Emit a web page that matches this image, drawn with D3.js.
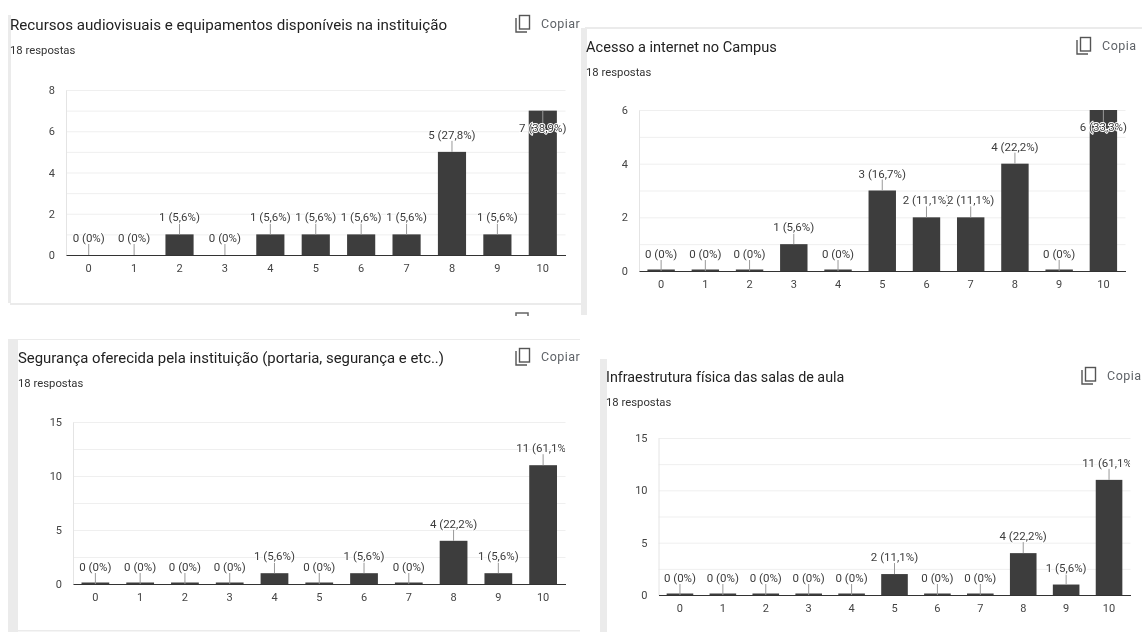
<!DOCTYPE html>
<html>
<head>
<meta charset="utf-8">
<script src="https://cdnjs.cloudflare.com/ajax/libs/d3/7.8.5/d3.min.js"></script>
<style>
  html, body { margin: 0; padding: 0; background: #fff; }
  svg { display: block; font-family: Roboto, sans-serif; filter: blur(0.4px); }
  .grid line { stroke: #efefef; }
  .grid .domain { display: none; }
  .axis .domain { stroke: #333; stroke-width: 1.2; }
  .axis text, .yaxis text { fill: #444; font-size: 11px; font-family: Roboto, sans-serif; }
  .yaxis .domain { stroke: #e4e4e4; }
</style>
</head>
<body>
<script>
const categories = ['0', '1', '2', '3', '4', '5', '6', '7', '8', '9', '10'];

const recursosValues = [0, 0, 1, 0, 1, 1, 1, 1, 5, 1, 7];
const recursosPercents = ['0%', '0%', '5,6%', '0%', '5,6%', '5,6%', '5,6%', '5,6%', '27,8%', '5,6%', '38,9%'];
const recursosTicks = [0, 2, 4, 6, 8];
const recursosGrid = [1, 2, 3, 4, 5, 6, 7, 8];

const acessoValues = [0, 0, 0, 1, 0, 3, 2, 2, 4, 0, 6];
const acessoPercents = ['0%', '0%', '0%', '5,6%', '0%', '16,7%', '11,1%', '11,1%', '22,2%', '0%', '33,3%'];
const acessoTicks = [0, 2, 4, 6];
const acessoGrid = [1, 2, 3, 4, 5, 6];

const segurancaValues = [0, 0, 0, 0, 1, 0, 1, 0, 4, 1, 11];
const segurancaPercents = ['0%', '0%', '0%', '0%', '5,6%', '0%', '5,6%', '0%', '22,2%', '5,6%', '61,1%'];

const infraValues = [0, 0, 0, 0, 0, 2, 0, 0, 4, 1, 11];
const infraPercents = ['0%', '0%', '0%', '0%', '0%', '11,1%', '0%', '0%', '22,2%', '5,6%', '61,1%'];

const fifteenTicks = [0, 5, 10, 15];
const fifteenGrid = [2.5, 5, 7.5, 10, 12.5, 15];

const svg = d3.select('body').append('svg')
  .attr('width', 1142)
  .attr('height', 632);

const defs = svg.append('defs');

// Gray card edges that are left over in the screenshot.
function drawCards() {
  const edges = [
    [8, 15, 3, 288],
    [581, 28, 6, 287],
    [585, 27, 557, 2],
    [10, 303, 571, 2],
    [8, 339, 10, 293],
    [18, 339, 562, 1],
    [18, 630, 562, 1.5],
    [600, 359, 7, 273],
  ];
  svg.append('g').selectAll('rect')
    .data(edges)
    .join('rect')
    .attr('x', (d) => d[0])
    .attr('y', (d) => d[1])
    .attr('width', (d) => d[2])
    .attr('height', (d) => d[3])
    .attr('fill', '#ebebeb');

  // Top of the copy icon of the next card in the form.
  svg.append('path')
    .attr('d', 'M516,316 V313 H528 V316')
    .attr('fill', 'none')
    .attr('stroke', '#666')
    .attr('stroke-width', 1.5);
}

/**
 * Draws one question card: header, axes, bars and value labels.
 */
function drawPanel(p) {
  const g = svg.append('g');

  g.append('text')
    .attr('x', p.titleX)
    .attr('y', p.titleY)
    .attr('font-size', p.titleSize)
    .attr('fill', '#222')
    .text(p.title);

  g.append('text')
    .attr('x', p.titleX)
    .attr('y', p.titleY + 24)
    .attr('font-size', 11.3)
    .attr('fill', '#333')
    .text('18 respostas');

  // Copy icon and button text.
  const icon = g.append('g')
    .attr('transform', `translate(${p.copyX},${p.titleY - 15})`)
    .attr('fill', 'none')
    .attr('stroke', '#555')
    .attr('stroke-width', 1.4);
  icon.append('rect').attr('x', 4.5).attr('y', 0.5).attr('width', 10).attr('height', 13.5);
  icon.append('path').attr('d', 'M1,3 V17 H12');

  g.append('text')
    .attr('x', p.copyX + 26)
    .attr('y', p.titleY - 2)
    .attr('font-size', 12.5)
    .attr('letter-spacing', 0.5)
    .attr('fill', '#5f6368')
    .text(p.copyText);

  const x = d3.scaleBand()
    .domain(categories)
    .range([p.left, p.right])
    .paddingInner(0.38)
    .paddingOuter(0.19);

  const y = d3.scaleLinear()
    .domain([0, p.ticks[p.ticks.length - 1]])
    .range([p.bottom, p.top]);

  g.append('g')
    .attr('class', 'grid')
    .attr('transform', `translate(${p.left},0)`)
    .call(d3.axisLeft(y).tickValues(p.grid).tickSize(-(p.right - p.left)).tickFormat(''));

  g.append('g')
    .attr('class', 'yaxis')
    .attr('transform', `translate(${p.left},0)`)
    .call(d3.axisLeft(y).tickValues(p.ticks).tickFormat(d3.format('d')).tickSize(0).tickPadding(11));

  // Zero answers still get a thin stub in three of the cards.
  const barTop = (d) => (d === 0 ? y(0) - p.zeroStub : y(d));

  g.append('g').selectAll('rect')
    .data(p.values)
    .join('rect')
    .attr('x', (d, i) => x(categories[i]))
    .attr('y', barTop)
    .attr('width', x.bandwidth())
    .attr('height', (d) => y(0) - barTop(d))
    .attr('fill', '#3d3d3d');

  g.append('g')
    .attr('class', 'axis')
    .attr('transform', `translate(0,${p.bottom})`)
    .call(d3.axisBottom(x).tickSize(0).tickPadding(9));

  // Labels go inside the bar when there is no room above the plot.
  const inside = (d) => y(d) - 17 < p.top + 22;
  const labelX = (i) => x(categories[i]) + x.bandwidth() / 2;

  g.append('g').selectAll('line')
    .data(p.values)
    .join('line')
    .attr('x1', (d, i) => labelX(i))
    .attr('x2', (d, i) => labelX(i))
    .attr('y1', (d) => y(d))
    .attr('y2', (d) => (inside(d) ? y(d) + 22 : y(d) - 11))
    .attr('stroke', '#999');

  const clipId = `clip-${p.left}`;
  defs.append('clipPath').attr('id', clipId)
    .append('rect')
    .attr('x', 0)
    .attr('y', p.top - 20)
    .attr('width', p.labelClip)
    .attr('height', p.bottom - p.top + 40);

  g.append('g')
    .attr('clip-path', `url(#${clipId})`)
    .selectAll('text')
    .data(p.values)
    .join('text')
    .attr('x', (d, i) => labelX(i))
    .attr('y', (d) => (inside(d) ? y(d) + 17 : y(d) - 17))
    .attr('dy', '0.35em')
    .attr('text-anchor', 'middle')
    .attr('font-size', 11.5)
    .attr('fill', '#3c3c3c')
    .attr('stroke', '#fff')
    .attr('stroke-width', 2)
    .attr('paint-order', 'stroke')
    .text((d, i) => `${d} (${p.percents[i]})`);
}

drawCards();

drawPanel({
  title: 'Recursos audiovisuais e equipamentos disponíveis na instituição',
  titleX: 10,
  titleY: 30,
  titleSize: 15.15,
  copyX: 515,
  copyText: 'Copiar',
  left: 66,
  right: 565.5,
  top: 90,
  bottom: 255,
  labelClip: 1142,
  zeroStub: 0,
  values: recursosValues,
  percents: recursosPercents,
  ticks: recursosTicks,
  grid: recursosGrid,
});

drawPanel({
  title: 'Acesso a internet no Campus',
  titleX: 586,
  titleY: 52,
  titleSize: 14.6,
  copyX: 1076,
  copyText: 'Copia',
  left: 639,
  right: 1125.5,
  top: 110,
  bottom: 271,
  labelClip: 1142,
  zeroStub: 1.5,
  values: acessoValues,
  percents: acessoPercents,
  ticks: acessoTicks,
  grid: acessoGrid,
});

drawPanel({
  title: 'Segurança oferecida pela instituição (portaria, segurança e etc..)',
  titleX: 18,
  titleY: 363,
  titleSize: 14.9,
  copyX: 515,
  copyText: 'Copiar',
  left: 73,
  right: 565.5,
  top: 422,
  bottom: 584,
  labelClip: 565,
  zeroStub: 1.5,
  values: segurancaValues,
  percents: segurancaPercents,
  ticks: fifteenTicks,
  grid: fifteenGrid,
});

drawPanel({
  title: 'Infraestrutura física das salas de aula',
  titleX: 606,
  titleY: 382,
  titleSize: 14.3,
  copyX: 1081,
  copyText: 'Copia',
  left: 658.5,
  right: 1130.5,
  top: 438,
  bottom: 595,
  labelClip: 1130,
  zeroStub: 1.5,
  values: infraValues,
  percents: infraPercents,
  ticks: fifteenTicks,
  grid: fifteenGrid,
});
</script>
</body>
</html>
